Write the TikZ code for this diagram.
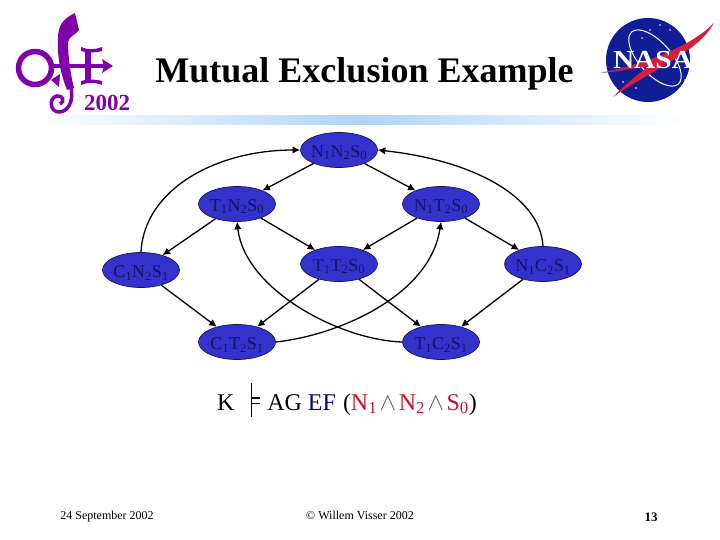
\documentclass[tikz,border=0pt]{standalone}
\usepackage{amssymb}
\usepackage{fontspec}
\setmainfont{Liberation Serif}
\usetikzlibrary{arrows.meta,shapes.geometric}
\definecolor{stateblue}{RGB}{51,51,204}
\definecolor{statetext}{RGB}{20,20,100}
\definecolor{logopurple}{RGB}{128,0,170}
\definecolor{nasablue}{RGB}{16,30,150}
\definecolor{nasared}{RGB}{214,30,60}
\definecolor{bandblue}{RGB}{175,212,250}
\definecolor{formred}{RGB}{200,20,40}
\definecolor{formblue}{RGB}{0,0,130}
\newcommand{\st}[3]{\rule{0pt}{17.5pt}#1$_{\mathrm{1}}$#2$_{\mathrm{2}}$S$_{\mathrm{#3}}$}
\newcommand{\conj}{{\fontsize{26}{26}\selectfont\textcolor{black!65}{$\wedge$}}}

\begin{document}
\begin{tikzpicture}[x=1pt,y=-1pt,
  state/.style={draw=statetext,fill=stateblue,ellipse,minimum width=77pt,minimum height=35pt,inner sep=-5pt,line width=0.7pt,font=\fontsize{18}{18}\selectfont,text=statetext},
  arrow/.style={-{Latex[length=7.5pt,width=7.5pt]},draw=black,line width=1.3pt},
  footer/.style={font=\fontsize{12}{12}\selectfont,inner sep=0pt,anchor=base},
  logo/.style={draw=logopurple,line width=5.5pt}]
  \useasboundingbox (0,0) rectangle (720,540);
  % band below the title
  \shade[left color=white,right color=bandblue,draw=none] (37,116) rectangle (360,125);
  \shade[left color=bandblue,right color=white,draw=none] (360,116) rectangle (687,125);
  % conference logo
  \draw[logo] (35,68) circle (16.5);
  \draw[logo,line width=4pt] (50,66) -- (104,66);
  \fill[logopurple] (113,66) -- (102,59) -- (104,66) -- (102,73) -- cycle;
  \draw[logo,line width=6.5pt] (88,50) -- (88,82);
  \fill[logopurple] (81,47) .. controls (88,50) and (94,50) .. (102,47) -- (102,51) .. controls (94,53) and (88,53) .. (81,51) -- cycle;
  \fill[logopurple] (81,85) .. controls (88,82) and (94,82) .. (102,85) -- (102,81) .. controls (94,79) and (88,79) .. (81,81) -- cycle;
  \fill[logopurple] (75,13) .. controls (64,18) and (58,25) .. (58,38) .. controls (57,55) and (60,72) .. (67,90) -- (74,88) .. controls (70,72) and (68,55) .. (68,42) .. controls (69,36) and (76,35) .. (79,30) -- cycle;
  \fill[logopurple] (51,80) -- (59,87) -- (60,74) -- cycle;
  \draw[logo,line width=3.5pt] (71,88) .. controls (74,103) and (67,112) .. (59,112) .. controls (50,112) and (48,98) .. (57,96) .. controls (63,95) and (65,102) .. (60,104);
  \node[text=logopurple,font=\bfseries\fontsize{23}{23}\selectfont,inner sep=0pt] (year) at (107,103) {2002};
  % agency logo
  \fill[nasablue] (648,60) circle (42);
  \draw[white,line width=1pt,rotate around={-48:(655,58)}] (655,58) ellipse (35 and 16);
  \fill[nasared] (600,73) .. controls (630,67) and (685,52) .. (714,23) .. controls (698,52) and (655,68) .. (613,97) .. controls (625,85) and (640,72) .. (650,66) .. controls (630,69) and (615,72) .. cycle;
  \node[text=white,font=\bfseries\fontsize{26}{26}\selectfont,inner sep=0pt,xscale=1.13] (agency) at (653,60) {NASA};
  \foreach \sx/\sy in {660/25,670/30,642/38,623/82,636/88,685/80,690/72,650/30}
    \fill[white] (\sx,\sy) circle (0.8);
  % title
  \node[font=\bfseries\fontsize{36}{36}\selectfont,inner sep=0pt] (title) at (364.5,74) {Mutual Exclusion Example};
  % states
  \node[state] (nn) at (339,150) {\st{N}{N}{0}};
  \node[state] (tn) at (237,204) {\st{T}{N}{0}};
  \node[state] (nt) at (441,204) {\st{N}{T}{0}};
  \node[state] (tt) at (339,264) {\st{T}{T}{0}};
  \node[state] (cn) at (141,270) {\st{C}{N}{1}};
  \node[state] (nc) at (543,264) {\st{N}{C}{1}};
  \node[state] (ct) at (237,342) {\st{C}{T}{1}};
  \node[state] (tc) at (441,342) {\st{T}{C}{1}};
  % transitions
  \draw[arrow] (nn) -- (tn);
  \draw[arrow] (nn) -- (nt);
  \draw[arrow] (tn) -- (cn);
  \draw[arrow] (tn) -- (tt);
  \draw[arrow] (nt) -- (tt);
  \draw[arrow] (nt) -- (nc);
  \draw[arrow] (cn) -- (ct);
  \draw[arrow] (tt) -- (ct);
  \draw[arrow] (tt) -- (tc);
  \draw[arrow] (nc) -- (tc);
  \draw[arrow] (cn.north) .. controls (144,190) and (215,150) .. (nn.west);
  \draw[arrow] (nc.north) .. controls (540,195) and (470,160) .. (nn.east);
  \draw[arrow] (ct.east) .. controls (340,335) and (430,295) .. (nt.south);
  \draw[arrow] (tc.west) .. controls (340,340) and (245,290) .. (tn.south);
  % formula
  \node[font=\fontsize{24}{24}\selectfont,inner sep=0pt,anchor=base west] (formula) at (217,410) {K\hspace{16pt}\rule[-7pt]{1.8pt}{34pt}\hspace{-0.6pt}\rule[11.5pt]{8pt}{1.4pt}\hspace{-8pt}\rule[6pt]{8pt}{1.4pt}\hspace{7.6pt}AG\hspace{6pt}\textcolor{formblue}{EF}\hspace{7pt}(\textcolor{formred}{N$_{\mathrm{1}}$}\hspace{2.5pt}\conj\hspace{2.5pt}\textcolor{formred}{N$_{\mathrm{2}}$}\hspace{2.5pt}\conj\hspace{2.5pt}\textcolor{formred}{S$_{\mathrm{0}}$})};
  % footer
  \node[footer] (date) at (107,519) {24 September 2002};
  \node[footer] (credit) at (360,519) {© Willem Visser 2002};
  \node[footer,font=\bfseries\fontsize{13}{13}\selectfont] (page) at (651,521) {13};
\end{tikzpicture}
\end{document}
